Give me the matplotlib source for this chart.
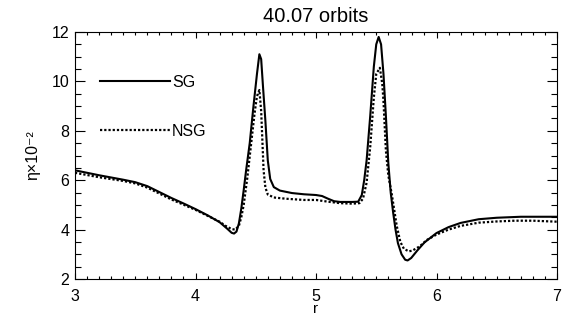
import matplotlib
matplotlib.use("Agg")
import matplotlib.pyplot as plt
from matplotlib.ticker import MultipleLocator

plt.rcParams['font.family'] = ['Liberation Sans', 'DejaVu Sans']

# SG curve (solid)
r_sg = [3.00, 3.20, 3.40, 3.50, 3.60, 3.70, 3.80, 3.90, 4.00, 4.10, 4.20, 4.26,
        4.30, 4.32, 4.34, 4.36, 4.38, 4.40, 4.42, 4.45, 4.48, 4.51, 4.53, 4.545,
        4.56, 4.58, 4.60, 4.62, 4.65, 4.70, 4.80, 4.90, 5.00, 5.05, 5.10, 5.15,
        5.20, 5.30, 5.35, 5.38, 5.40, 5.42, 5.45, 5.48, 5.50, 5.52, 5.54, 5.56,
        5.58, 5.60, 5.62, 5.64, 5.66, 5.68, 5.71, 5.74, 5.76, 5.79, 5.84, 5.90,
        6.00, 6.10, 6.20, 6.35, 6.50, 6.70, 7.00]
eta_sg = [6.40, 6.20, 6.02, 5.92, 5.76, 5.52, 5.28, 5.06, 4.83, 4.58, 4.30, 4.05,
          3.87, 3.84, 3.92, 4.25, 4.85, 5.60, 6.40, 7.50, 8.95, 10.30, 11.10, 10.90,
          9.80, 8.40, 6.80, 6.05, 5.72, 5.58, 5.48, 5.43, 5.40, 5.36, 5.25, 5.15,
          5.12, 5.12, 5.13, 5.40, 6.00, 6.80, 8.60, 10.60, 11.50, 11.80, 11.50, 10.30,
          8.60, 6.70, 5.50, 4.70, 4.00, 3.45, 3.00, 2.78, 2.75, 2.85, 3.15, 3.48,
          3.86, 4.10, 4.27, 4.42, 4.48, 4.52, 4.52]

# NSG curve (dotted)
r_nsg = [3.00, 3.20, 3.40, 3.50, 3.60, 3.70, 3.80, 3.90, 4.00, 4.10, 4.20, 4.25,
         4.30, 4.33, 4.36, 4.38, 4.40, 4.43, 4.46, 4.49, 4.51, 4.53, 4.545, 4.555,
         4.565, 4.58, 4.60, 4.65, 4.75, 4.90, 5.00, 5.10, 5.20, 5.30, 5.36, 5.39,
         5.42, 5.45, 5.48, 5.50, 5.53, 5.55, 5.56, 5.58, 5.60, 5.63, 5.67, 5.70,
         5.73, 5.77, 5.80, 5.86, 5.92, 6.00, 6.10, 6.20, 6.35, 6.50, 6.65, 6.80, 7.00]
eta_nsg = [6.30, 6.12, 5.97, 5.87, 5.70, 5.46, 5.22, 5.01, 4.80, 4.56, 4.32, 4.15,
           4.02, 4.00, 4.15, 4.50, 5.00, 6.10, 7.40, 8.70, 9.40, 9.65, 8.80, 7.60,
           6.40, 5.70, 5.42, 5.30, 5.25, 5.20, 5.20, 5.13, 5.07, 5.05, 5.07, 5.25,
           5.90, 7.35, 9.35, 10.30, 10.55, 9.90, 9.20, 7.20, 6.20, 5.40, 4.15, 3.50,
           3.22, 3.12, 3.15, 3.32, 3.58, 3.80, 4.00, 4.15, 4.28, 4.33, 4.36, 4.36, 4.32]

title = "40.07 orbits"

fig = plt.figure(figsize=(5.76, 3.24), dpi=100)
ax = fig.add_axes([75/576, 1-279/324, 482/576, 247/324])

ax.plot(r_sg, eta_sg, color='black', lw=1.5, label='SG')
ax.plot(r_nsg, eta_nsg, color='black', lw=1.6, linestyle=(0, (1, 0.9)), label='NSG')

ax.set_xlim(3, 7)
ax.set_ylim(2, 12)
ax.xaxis.set_major_locator(MultipleLocator(1))
ax.xaxis.set_minor_locator(MultipleLocator(0.1))
ax.yaxis.set_major_locator(MultipleLocator(2))
ax.yaxis.set_minor_locator(MultipleLocator(0.5))
ax.tick_params(axis='both', which='both', direction='in', top=True, right=True,
               width=0.8, labelsize=11.5)
ax.tick_params(axis='x', which='major', length=4, pad=7)
ax.tick_params(axis='x', which='minor', length=2)
ax.tick_params(axis='y', which='major', length=7.5, pad=4)
ax.tick_params(axis='y', which='minor', length=4)
for s in ax.spines.values():
    s.set_linewidth(0.8)

ax.set_title(title, fontsize=14.5, pad=7)
ax.set_xlabel("r", fontsize=11, labelpad=-1)
ax.set_ylabel("η×10⁻²", fontsize=11.5, labelpad=8)

leg = ax.legend(loc='upper left', bbox_to_anchor=(0.052, 0.826), frameon=False,
                borderpad=0, borderaxespad=0, handlelength=4.4, handletextpad=0.1,
                labelspacing=2.1, fontsize=11.5)

fig.savefig("out.png", dpi=100)
